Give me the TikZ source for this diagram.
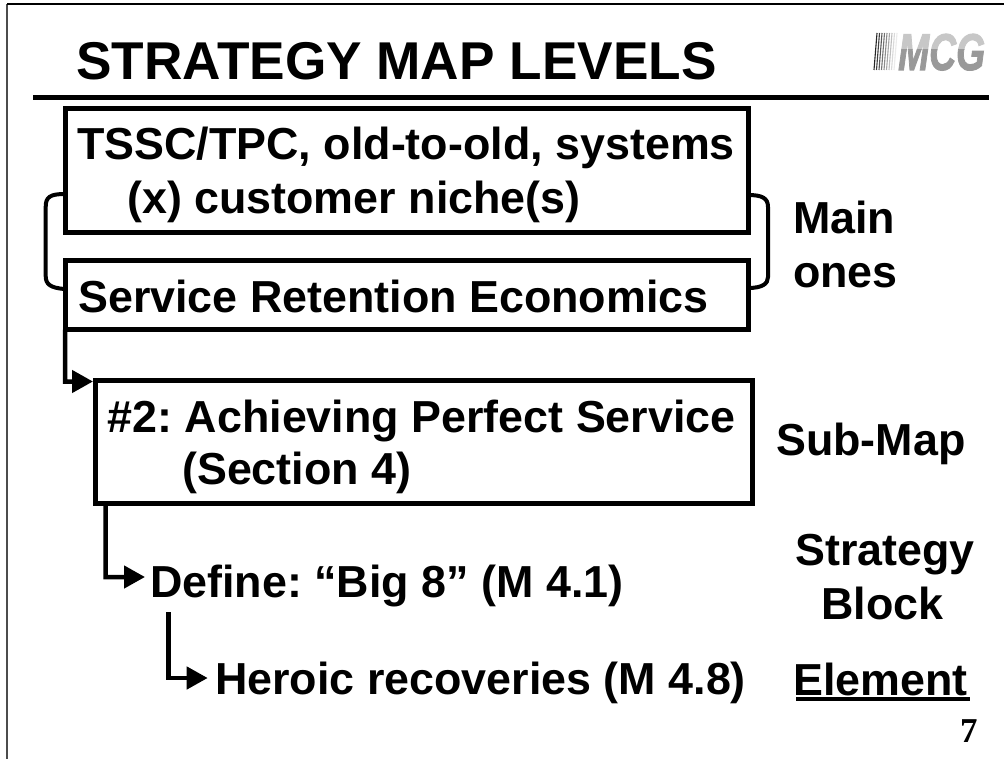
\documentclass[tikz,border=0pt]{standalone}
\usepackage{fontspec}
\setmainfont{Liberation Sans}
\newfontfamily\numfont{Liberation Serif}
\newfontfamily\logofont[BoldItalicFeatures={FakeBold=2}]{Liberation Sans}
\usetikzlibrary{calc}
\usetikzlibrary{arrows.meta}
\tikzset{
  boxnode/.style={draw=black, line width=5bp, inner sep=0, outer sep=0, anchor=north west},
  label/.style={anchor=base west, inner sep=0, font=\fontsize{45}{45}\selectfont\bfseries\frenchspacing},
  logotext/.style={anchor=base west, inner sep=0, xscale=.72, font=\fontsize{52}{52}\selectfont\logofont\bfseries\itshape},
  flow/.style={black, line width=4.5bp, -{Triangle[length=21bp,width=22bp]}},
  brace/.style={black, line width=4bp}
}
\begin{document}
\begin{tikzpicture}[x=1bp, y=-1bp]
\useasboundingbox (0,0) rectangle (1004,759);
\fill[white] (0,0) rectangle (1004,759);
\draw[black!70, line width=1.2bp] (7,759)--(7,4);
\draw[black, line width=1.5bp] (7,4)--(1004,4);
\node[anchor=base west, inner sep=0, font=\fontsize{53.4}{53.4}\selectfont\bfseries\frenchspacing] (title) at (76,80) {STRATEGY MAP LEVELS};
\draw[black, line width=5bp] (33,97.7)--(989,97.7);

% logo
\foreach \x/\c in {877/85,879.5/75,882/65,884.5/55,887/45,889.5/35,892/25,894.5/15,897/8} {
  \draw[black!\c, line width=1.1bp] (\x,33)--(\x-3,70);
}
\begin{scope}
\clip (890,30) rectangle (1000,50);
\node[logotext, text=black!22] at (898,70) {MCG};
\end{scope}
\begin{scope}
\clip (890,50) rectangle (1000,75);
\node[logotext, text=black!40] (logo) at (898,70) {MCG};
\end{scope}

\node[boxnode, minimum width=683bp, minimum height=124bp] (market) at (65,108) {};
\node[boxnode, minimum width=683bp, minimum height=69bp] (service) at (65,260.5) {};
\node[boxnode, minimum width=657bp, minimum height=123bp] (submap) at (95,380) {};

\node[label] (line1) at (77,159.5) {TSSC/TPC, old-to-old, systems};
\node[label] (line2) at (127,213) {(x) customer niche(s)};
\node[label] (line3) at (78,312) {Service Retention Economics};
\node[label] (line4) at (107.5,432) {\#2: Achieving Perfect Service};
\node[label] (line5) at (182,484) {(Section 4)};
\node[label] (define) at (150,597) {Define: “Big 8” (M 4.1)};
\node[label] (heroic) at (215,694) {Heroic recoveries (M 4.8)};

\node[label] (main) at (793,233) {Main};
\node[label] (ones) at (793,287) {ones};
\node[label] (sub) at (776,455) {Sub-Map};
\node[label] (strategy) at (795,565) {Strategy};
\node[label] (block) at (821,619) {Block};
\node[label] (element) at (793,695) {Element};
\draw[black, line width=4bp] (796,699)--(970,699);
\node[anchor=base west, inner sep=0, font=\fontsize{35}{35}\selectfont\numfont\bfseries] (page) at (960,742) {7};

\coordinate (heroicstart) at (168.7,612);
\draw[brace] (market.west |- 0,194) .. controls (50,194) and (45.7,197) .. (45.7,207) -- (45.7,276) .. controls (45.7,284) and (50,288) .. (service.west |- 0,289);
\draw[brace] (market.east |- 0,195) .. controls (762,195) and (768,198) .. (768,207) -- (768,277) .. controls (768,284) and (762,288) .. (service.east |- 0,288);
\draw[flow] (service.south west) -- ++(0,52) -- (93,381.5);
\draw[flow] ($(submap.south west)+(10.7,0)$) -- ++(0,74) -- (145,577);
\draw[flow] (heroicstart) -- ++(0,66) -- (207.7,678);
\end{tikzpicture}
\end{document}
